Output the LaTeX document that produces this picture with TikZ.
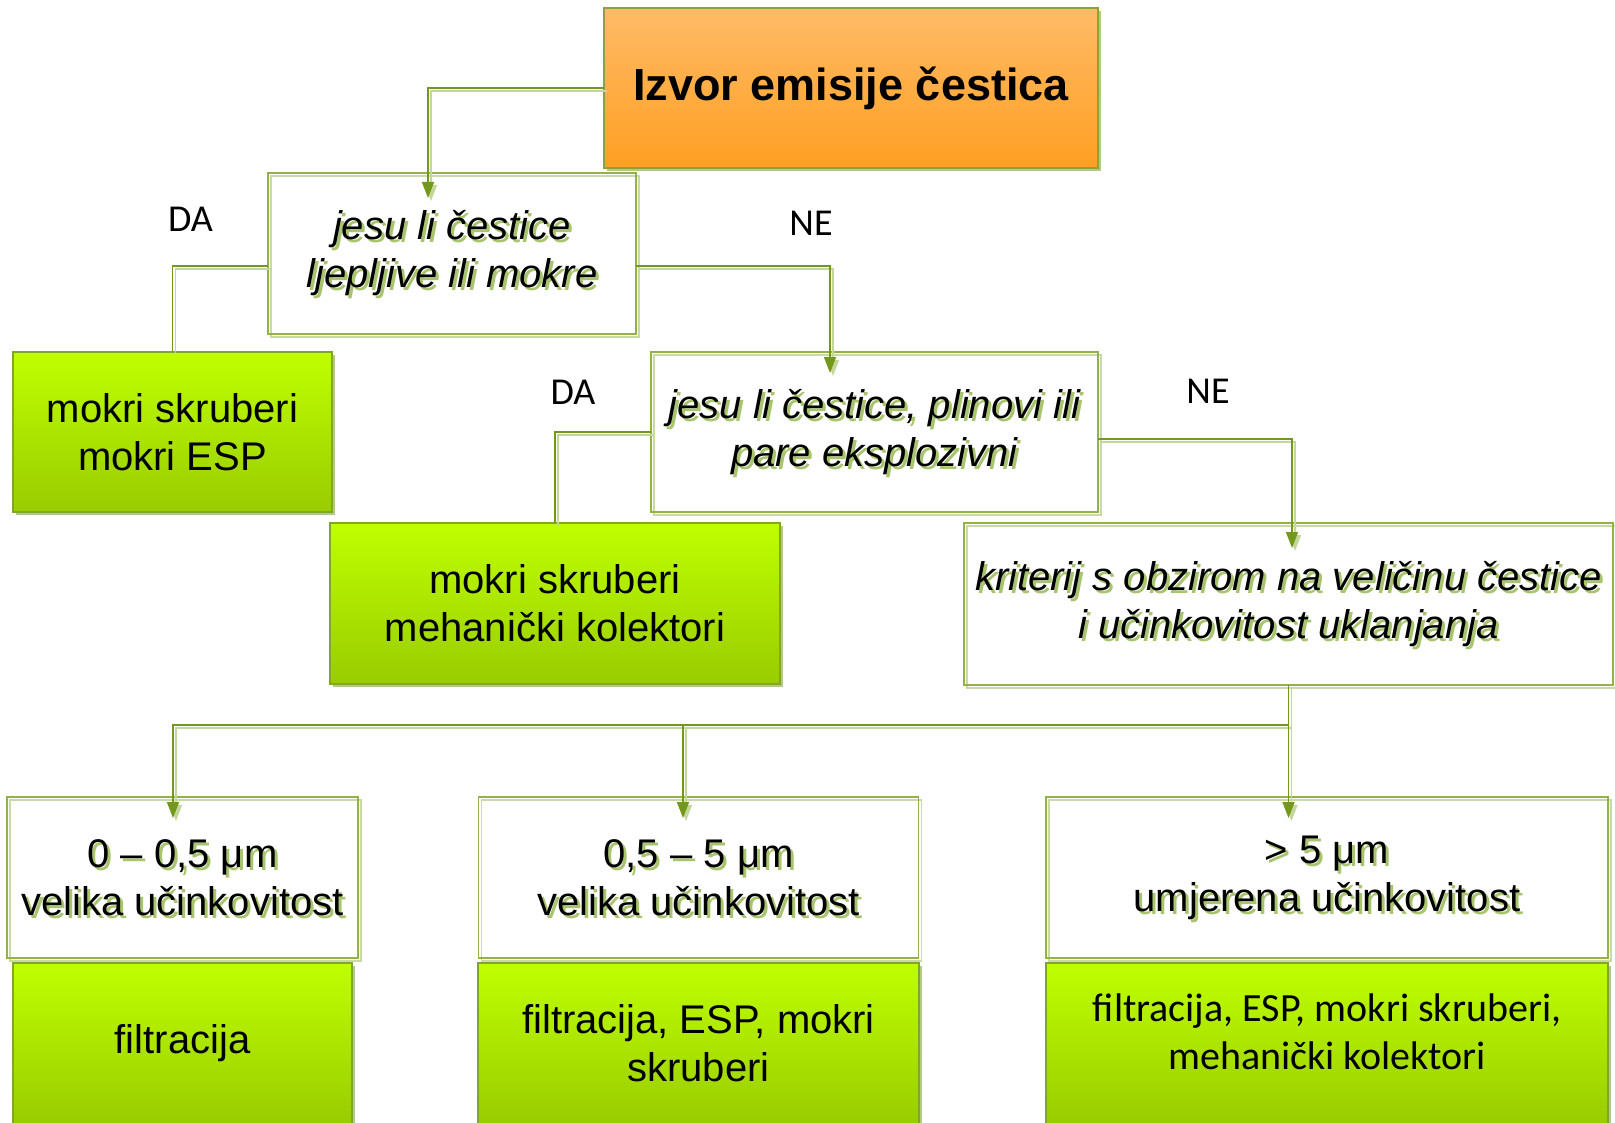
\documentclass[tikz,border=0pt]{standalone}
\usepackage{fontspec}
\setmainfont{Liberation Sans}
\newfontfamily\calfont{Carlito}
\usetikzlibrary{arrows.meta,shadows}
\definecolor{lineC}{HTML}{74981C}
\definecolor{lshC}{HTML}{C4D79B}
\definecolor{wboxC}{HTML}{93B346}
\definecolor{wshC}{HTML}{C9DAA6}
\definecolor{gTop}{HTML}{BFFF00}
\definecolor{gBot}{HTML}{99CC00}
\definecolor{gbC}{HTML}{82A52C}
\definecolor{gshC}{HTML}{B3CA84}
\definecolor{oTop}{HTML}{FFBB66}
\definecolor{oBot}{HTML}{FF9F22}
\definecolor{obC}{HTML}{8EA23C}
\definecolor{tshC}{HTML}{A8C46D}
\begin{document}
\begin{tikzpicture}[x=0.5pt,y=-0.5pt,
  every node/.style={inner sep=0pt,outer sep=0pt,align=center,font=\fontsize{20pt}{24pt}\selectfont},
  ital/.style={font=\itshape\fontsize{20pt}{24pt}\selectfont},
  wbox/.style={draw=wboxC,line width=0.8pt,general shadow={draw=wshC,line width=0.8pt,shadow xshift=1.5pt,shadow yshift=-1.5pt}},
  gbox/.style={draw=gbC,line width=0.8pt,top color=gTop,bottom color=gBot,drop shadow={fill=gshC,opacity=1,shadow xshift=1.5pt,shadow yshift=-1.5pt}},
  obox/.style={draw=obC,line width=0.8pt,top color=oTop,bottom color=oBot,drop shadow={fill=gshC,opacity=1,shadow xshift=1.5pt,shadow yshift=-1.5pt}},
  tsh/.style={text=tshC},
  link/.style={draw=lineC,line width=0.8pt,preaction={draw=lshC,line width=0.8pt,transform canvas={shift={(1.5pt,-1.5pt)}}}},
  conn/.style={link,-{Triangle[length=8pt,width=6pt]}},
  lbl/.style={font=\calfont\fontsize{19pt}{22pt}\selectfont,anchor=base},
  cal/.style={font=\calfont\fontsize{20pt}{24pt}\selectfont}
]
\useasboundingbox (0,0) rectangle (1615,1123);
\clip (0,0) rectangle (1615,1123);
\fill[white] (0,0) rectangle (1615,1123);

% source
\node[obox,minimum width=247pt,minimum height=80pt,font=\bfseries\fontsize{22.5pt}{27pt}\selectfont] (src) at (851,88) {Izvor emisije čestica};

% question 1
\node[tsh,ital] (q1s) at (455,256.5) {jesu li čestice\\ljepljive ili mokre};
\node[wbox,ital,minimum width=184pt,minimum height=80.5pt] (q1) at (452,253.5) {jesu li čestice\\ljepljive ili mokre};

\node[gbox,minimum width=159.5pt,minimum height=80pt] (g1) at (172.5,432) {mokri skruberi\\mokri ESP};

% question 2
\node[tsh,ital] (q2s) at (877.5,435) {jesu li čestice, plinovi ili\\pare eksplozivni};
\node[wbox,ital,minimum width=223.5pt,minimum height=80pt] (q2) at (874.5,432) {jesu li čestice, plinovi ili\\pare eksplozivni};

\node[gbox,minimum width=225pt,minimum height=80.5pt] (g2) at (555,603.5) {mokri skruberi\\mehanički kolektori};

% question 3
\node[tsh,ital] (q3s) at (1291.5,607) {kriterij s obzirom na veličinu čestice\\i učinkovitost uklanjanja};
\node[wbox,ital,minimum width=324.5pt,minimum height=81pt] (q3) at (1288.5,604) {kriterij s obzirom na veličinu čestice\\i učinkovitost uklanjanja};

% size classes
\node[tsh] (b1s) at (185.5,880.5) {0 – 0,5 μm\\velika učinkovitost};
\node[wbox,minimum width=175.5pt,minimum height=80.5pt] (b1) at (182.5,877.5) {0 – 0,5 μm\\velika učinkovitost};
\node[tsh] (b2s) at (701.5,880.5) {0,5 – 5 μm\\velika učinkovitost};
\node[wbox,minimum width=220pt,minimum height=80.5pt] (b2) at (698.5,877.5) {0,5 – 5 μm\\velika učinkovitost};
\node[tsh] (b3s) at (1330,880.5) {> 5 μm\\umjerena učinkovitost};
\node[wbox,minimum width=281pt,minimum height=80.5pt] (b3) at (1327,877.5) {> 5 μm\\umjerena učinkovitost};

% results
\node[gbox,minimum width=169.5pt,minimum height=80.5pt] (r1) at (182.5,1043.5) {filtracija};
\node[gbox,minimum width=220.5pt,minimum height=80.5pt] (r2) at (698.5,1043.5) {filtracija, ESP, mokri\\skruberi};
\node[gbox,minimum width=281pt,minimum height=80.5pt] (r3) at (1327,1043.5) {};
\node[cal] (r3t) at (1327,1032) {filtracija, ESP, mokri skruberi,\\mehanički kolektori};

% labels
\node[lbl] (da1) at (190.5,232) {DA};
\node[lbl] (ne1) at (811,235) {NE};
\node[lbl] (da2) at (573,404) {DA};
\node[lbl] (ne2) at (1208,403) {NE};

% connectors
\coordinate (t1) at (428,198);
\coordinate (t2) at (830,373);
\coordinate (t3) at (1292,548);
\coordinate (bus) at (1288.5,725);
\coordinate (t4) at (173,818);
\coordinate (t5) at (683,818);
\coordinate (t6) at (1288.5,818);

\draw[conn] (src.west) -| (t1);
\draw[link] ([yshift=-6.25pt]q1.west) -| (g1.north);
\draw[conn] ([yshift=-6.25pt]q1.east) -| (t2);
\draw[link] (q2.west) -| (g2.north);
\draw[conn] ([yshift=-3.5pt]q2.east) -| (t3);
\draw[conn] (q3.south) -- (bus) -| (t4);
\draw[conn] (bus) -| (t5);
\draw[conn] (q3.south) -- (t6);
\end{tikzpicture}
\end{document}
